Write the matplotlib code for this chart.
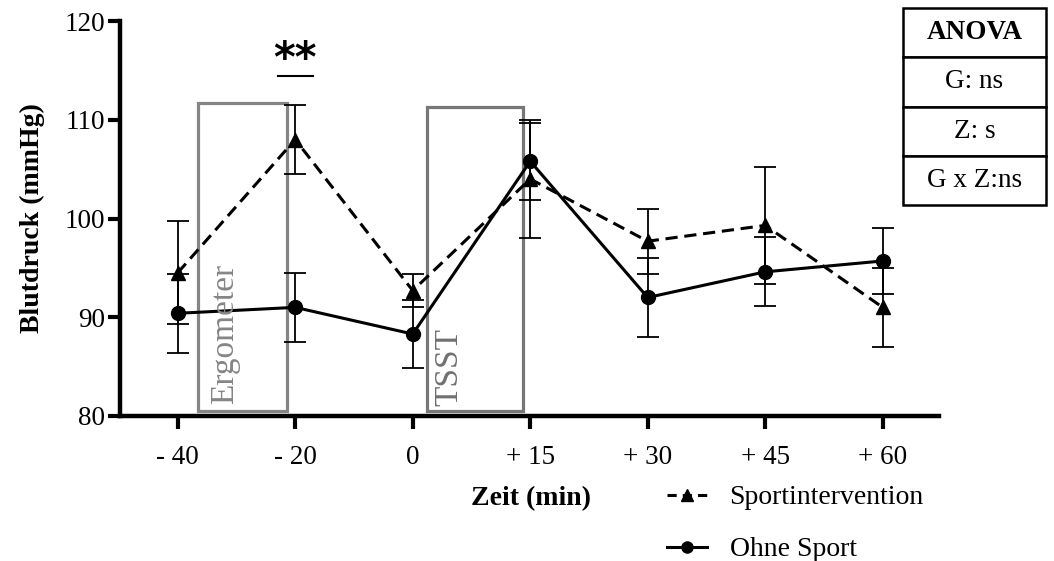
import matplotlib
matplotlib.use("Agg")
import matplotlib.pyplot as plt
from matplotlib.patches import Rectangle
from matplotlib.lines import Line2D
import numpy as np

plt.rcParams['font.family'] = ['Liberation Serif', 'DejaVu Serif']

# time points (min) and group means / errors (mmHg)
zeit_labels = ["- 40", "- 20", "0", "+ 15", "+ 30", "+ 45", "+ 60"]
sport_mean = [94.5, 108.0, 92.7, 104.0, 97.7, 99.3, 91.0]
sport_err = [5.2, 3.5, 1.7, 6.0, 3.3, 5.9, 4.0]
ohne_mean = [90.4, 91.0, 88.3, 105.8, 92.0, 94.6, 95.7]
ohne_err = [4.0, 3.5, 3.4, 3.9, 4.0, 3.5, 3.3]

anova_rows = ["ANOVA", "G: ns", "Z: s", "G x Z:ns"]

x = np.arange(len(zeit_labels))

fig = plt.figure(figsize=(10.54, 5.61), dpi=100)
ax = fig.add_axes([0.114, 0.2585, 0.777, 0.704])

# phase boxes
grey = "#858585"
ax.add_patch(Rectangle((0.17, 80.5), 0.76, 31.2, fill=False, edgecolor=grey,
                       linewidth=2.3, zorder=1, clip_on=False))
ax.add_patch(Rectangle((2.12, 80.5), 0.82, 30.8, fill=False, edgecolor="#777777",
                       linewidth=2.3, zorder=1, clip_on=False))
ax.text(0.40, 81.2, "Ergometer", rotation=90, color=grey, fontsize=24,
        ha="center", va="bottom", zorder=4)
ax.text(2.31, 81.0, "TSST", rotation=90, color="#707070", fontsize=24,
        ha="center", va="bottom", zorder=4)

ax.errorbar(x, sport_mean, yerr=sport_err, color="black", linestyle="--",
            linewidth=2.2, dashes=(4, 2.2), marker="^", markersize=9.5,
            elinewidth=1.3, capsize=8, capthick=1.3, zorder=3)
ax.errorbar(x, ohne_mean, yerr=ohne_err, color="black", linestyle="-",
            linewidth=2.2, marker="o", markersize=10,
            elinewidth=1.3, capsize=8, capthick=1.3, zorder=3)

# significance marker
ax.text(1, 116.1, "**", fontsize=30, fontweight="bold", ha="center",
        va="center", family="DejaVu Sans")
ax.plot([0.85, 1.15], [114.4, 114.4], color="black", linewidth=1.5)

ax.set_xlim(-0.49, 6.48)
ax.set_ylim(80, 120)
ax.set_xticks(x)
ax.set_xticklabels(zeit_labels)
ax.set_yticks([80, 90, 100, 110, 120])
ax.tick_params(axis="both", labelsize=19.5, width=3, length=9, direction="out")
ax.tick_params(axis="x", pad=12)
ax.tick_params(axis="y", pad=2)
for s in ["top", "right"]:
    ax.spines[s].set_visible(False)
for s in ["left", "bottom"]:
    ax.spines[s].set_linewidth(3.2)

fig.text(0.031, 0.611, "Blutdruck (mmHg)", rotation=90, fontsize=20,
         fontweight="bold", ha="center", va="center")
fig.text(531 / 1054, 1 - 499 / 561, "Zeit (min)", fontsize=20,
         fontweight="bold", ha="center", va="center")

handles = [
    Line2D([], [], color="black", linestyle="--", linewidth=2.2, dashes=(3, 2),
           marker="^", markersize=8),
    Line2D([], [], color="black", linestyle="-", linewidth=2.2,
           marker="o", markersize=8),
]
fig.legend(handles, ["Sportintervention", "Ohne Sport"], loc="upper left",
           bbox_to_anchor=(667 / 1054, 1 - 485 / 561), frameon=False,
           fontsize=20, handlelength=1.45, handletextpad=0.8,
           labelspacing=0.95, borderpad=0, borderaxespad=0)

# ANOVA table
tax = fig.add_axes([903 / 1054, 1 - 205 / 561, 143 / 1054, 197 / 561])
tax.axis("off")
tbl = tax.table(cellText=[[r] for r in anova_rows], cellLoc="center",
                bbox=[0, 0, 1, 1])
tbl.auto_set_font_size(False)
for (r, c), cell in tbl.get_celld().items():
    cell.set_linewidth(1.8)
    cell.get_text().set_fontsize(19.5)
    if r == 0:
        cell.get_text().set_fontweight("bold")

fig.savefig("out.png", dpi=100)
